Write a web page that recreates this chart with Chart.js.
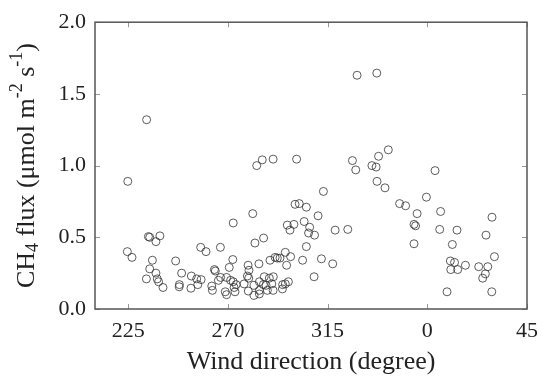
<!DOCTYPE html>
<html>
<head>
<meta charset="utf-8">
<script src="https://cdn.jsdelivr.net/npm/chart.js@4/dist/chart.umd.min.js"></script>
<style>
  html, body { margin: 0; padding: 0; background: #fff; }
  #wrap { width: 547px; height: 378px; }
</style>
</head>
<body>
<div id="wrap"><canvas id="chart"></canvas></div>
<script>
// wind direction in degrees (0-45 are plotted after 360)
const windDir = [
  224.8, 233.3, 224.6, 226.7, 234.1, 234.7, 237.5, 239.3, 235.9, 234.7,
  233.2, 237.5, 238.1, 238.7, 240.7, 246.4, 249.1, 248.1, 248.0, 253.5,
  253.3, 255.9, 257.9, 256.4, 257.7, 260.1, 266.6, 263.9, 264.3, 262.7,
  263.0, 265.7, 266.7, 269.4, 270.6, 272.2, 272.4, 268.8, 269.4, 271.2,
  272.4, 272.8, 273.2, 273.7, 285.5, 290.4, 301.0, 283.0, 326.2, 327.7,
  338.0, 335.0, 336.9, 337.3, 340.9, 313.1, 300.3, 302.2, 305.4, 310.7,
  281.2, 296.8, 299.8, 298.0, 304.4, 306.9, 306.4, 309.1, 318.4, 324.1,
  282.2, 286.1, 305.4, 295.9, 298.3, 289.0, 291.3, 292.3, 293.5, 303.7,
  312.2, 317.3, 296.5, 284.0, 279.1, 279.5, 278.8, 279.4, 308.9, 284.2,
  286.4, 288.7, 290.5, 297.3, 294.7, 295.9, 277.3, 281.8, 286.0, 287.2,
  289.8, 279.2, 284.2, 287.8, 290.4, 294.6, 281.8, 284.2, 328.3, 337.2,
  342.4, 3.5, 359.6, 347.5, 350.2, 355.4, 6.0, 29.2, 354.0, 354.7,
  5.6, 13.4, 26.5, 354.0, 11.3, 30.3, 10.4, 12.3, 17.2, 10.6,
  13.7, 23.2, 27.3, 26.2, 25.0, 8.9, 29.1
];
const ch4Flux = [
  0.89, 1.32, 0.40, 0.36, 0.505, 0.50, 0.47, 0.51, 0.34, 0.28,
  0.21, 0.25, 0.21, 0.19, 0.15, 0.335, 0.25, 0.17, 0.155, 0.23,
  0.145, 0.21, 0.205, 0.17, 0.43, 0.40, 0.43, 0.275, 0.265, 0.16,
  0.13, 0.20, 0.22, 0.22, 0.29, 0.345, 0.60, 0.12, 0.10, 0.20,
  0.19, 0.15, 0.12, 0.17, 1.04, 1.045, 1.045, 1.00, 1.035, 0.97,
  1.065, 1.00, 0.99, 0.89, 0.845, 0.82, 0.73, 0.735, 0.71, 0.65,
  0.665, 0.585, 0.59, 0.55, 0.61, 0.57, 0.53, 0.515, 0.55, 0.555,
  0.46, 0.495, 0.435, 0.395, 0.365, 0.34, 0.36, 0.355, 0.355, 0.34,
  0.35, 0.315, 0.305, 0.315, 0.305, 0.27, 0.23, 0.215, 0.225, 0.19,
  0.225, 0.215, 0.225, 0.19, 0.17, 0.175, 0.175, 0.165, 0.17, 0.165,
  0.175, 0.125, 0.13, 0.13, 0.13, 0.14, 0.095, 0.105, 1.63, 1.645,
  1.11, 0.965, 0.78, 0.735, 0.72, 0.665, 0.68, 0.64, 0.59, 0.58,
  0.555, 0.55, 0.515, 0.455, 0.45, 0.365, 0.335, 0.325, 0.305, 0.275,
  0.275, 0.295, 0.295, 0.245, 0.215, 0.12, 0.12
];
const xTicks = [225, 270, 315, 360, 405];
const yTicks = [0, 0.5, 1.0, 1.5, 2.0];

const points = windDir.map((d, i) => ({ x: d < 180 ? d + 360 : d, y: ch4Flux[i] }));

const serif = "'Liberation Serif', 'DejaVu Serif', serif";

// box round the plot, inward ticks on all sides, y title with sub/superscripts
const framePlugin = {
  id: "frame",
  afterDraw(chart) {
    const { ctx, chartArea: a, scales: { x, y } } = chart;
    ctx.save();
    ctx.strokeStyle = "#999";
    ctx.lineWidth = 1;
    ctx.beginPath();
    x.ticks.forEach(t => {
      const px = Math.round(x.getPixelForValue(t.value)) + 0.5;
      ctx.moveTo(px, a.bottom); ctx.lineTo(px, a.bottom - 5);
      ctx.moveTo(px, a.top); ctx.lineTo(px, a.top + 5);
    });
    y.ticks.forEach(t => {
      const py = Math.round(y.getPixelForValue(t.value)) + 0.5;
      ctx.moveTo(a.left, py); ctx.lineTo(a.left + 5, py);
      ctx.moveTo(a.right, py); ctx.lineTo(a.right - 5, py);
    });
    ctx.stroke();
    ctx.strokeStyle = "#555";
    ctx.lineWidth = 1.5;
    ctx.strokeRect(a.left, a.top, a.right - a.left, a.bottom - a.top);

    // y axis title
    const big = "26px " + serif, small = "18px " + serif;
    const parts = [
      ["CH", big, 0], ["4", small, 6], [" flux (\u03bcmol m", big, 0],
      ["-2", small, -10], [" s", big, 0], ["-1", small, -10], [")", big, 0]
    ];
    let total = 0;
    parts.forEach(p => { ctx.font = p[1]; total += ctx.measureText(p[0]).width; });
    ctx.translate(27, (a.top + a.bottom) / 2);
    ctx.rotate(-Math.PI / 2);
    ctx.fillStyle = "#222";
    ctx.textBaseline = "middle";
    let cx = -total / 2;
    parts.forEach(p => {
      ctx.font = p[1];
      ctx.fillText(p[0], cx, p[2]);
      cx += ctx.measureText(p[0]).width;
    });
    ctx.restore();
  }
};

new Chart(document.getElementById("chart"), {
  type: "scatter",
  data: {
    datasets: [{
      data: points,
      pointStyle: "circle",
      pointRadius: 4,
      pointBorderWidth: 0.8,
      pointBorderColor: "#333",
      pointBackgroundColor: "rgba(0,0,0,0)"
    }]
  },
  options: {
    responsive: true,
    maintainAspectRatio: false,
    animation: false,
    layout: { padding: { top: 14, right: 19, left: 0, bottom: 0 } },
    plugins: { legend: { display: false }, tooltip: { enabled: false } },
    scales: {
      x: {
        type: "linear",
        min: 210,
        max: 405,
        afterBuildTicks: s => { s.ticks = xTicks.map(v => ({ value: v })); },
        afterFit: s => { s.height = 69; },
        grid: { display: false, drawTicks: false },
        border: { display: false },
        ticks: {
          padding: 9,
          color: "#222",
          font: { family: serif, size: 22 },
          callback: v => String(v % 360)
        },
        title: {
          display: true,
          text: "Wind direction (degree)",
          color: "#222",
          font: { family: serif, size: 26 },
          padding: { top: 0, bottom: 0 }
        }
      },
      y: {
        min: 0,
        max: 2,
        afterBuildTicks: s => { s.ticks = yTicks.map(v => ({ value: v })); },
        afterFit: s => { s.width = 95; },
        grid: { display: false, drawTicks: false },
        border: { display: false },
        ticks: {
          padding: 9,
          color: "#222",
          font: { family: serif, size: 22 },
          callback: v => v.toFixed(1)
        }
      }
    }
  },
  plugins: [framePlugin]
});
</script>
</body>
</html>
